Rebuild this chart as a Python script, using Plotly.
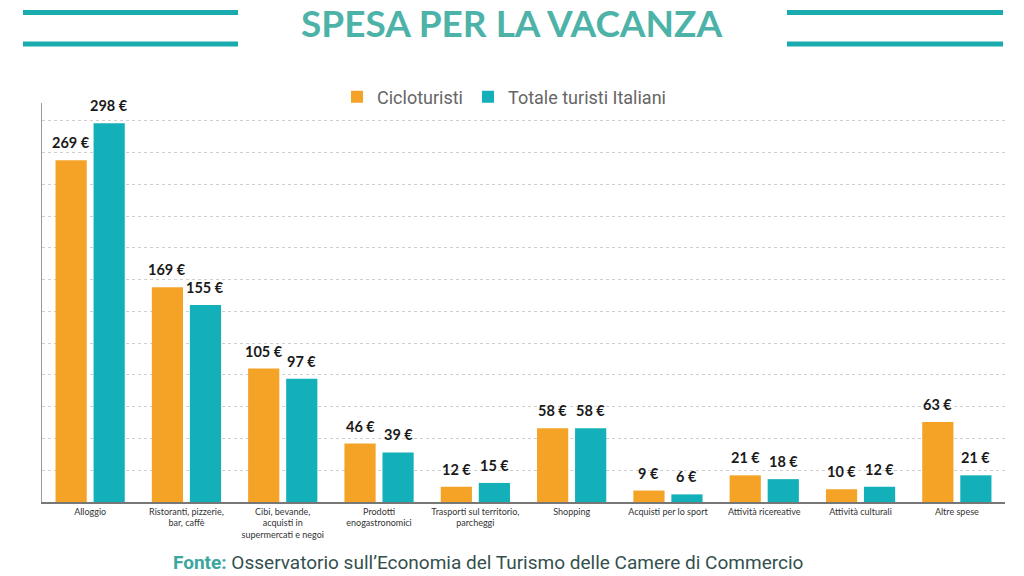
import plotly.graph_objects as go

categories = [
    "Alloggio",
    "Ristoranti, pizzerie,<br>bar, caffè",
    "Cibi, bevande,<br>acquisti in<br>supermercati e negoi",
    "Prodotti<br>enogastronomici",
    "Trasporti sul territorio,<br>parcheggi",
    "Shopping",
    "Acquisti per lo sport",
    "Attività ricereative",
    "Attività culturali",
    "Altre spese",
]
cicloturisti = [269, 169, 105, 46, 12, 58, 9, 21, 10, 63]
totale_italiani = [298, 155, 97, 39, 15, 58, 6, 18, 12, 21]
series_names = ["Cicloturisti", "Totale turisti Italiani"]

ORANGE = "#F4A326"
TEAL = "#14B0BA"
LINE_TEAL = "#1AABAF"
TITLE_TEAL = "#4DB3A8"

L, R, T, B = 42, 19, 103, 74
PW, PH = 1024 - L - R, 576 - T - B


def px_x(p):
    return (p - L) / PW


def px_y(p):
    return (576 - B - p) / PH


fig = go.Figure()
fig.add_trace(go.Bar(x=categories, y=cicloturisti, name=series_names[0],
                     marker_color=ORANGE, marker_line_width=0))
fig.add_trace(go.Bar(x=categories, y=totale_italiani, name=series_names[1],
                     marker_color=TEAL, marker_line_width=0))

annotations = []
for vals, shift in ((cicloturisti, -19), (totale_italiani, 19)):
    for c, v in zip(categories, vals):
        annotations.append(dict(
            x=c, y=v, xref="x", yref="y", text=f"{v} €", showarrow=False,
            xshift=shift, yshift=7, yanchor="bottom", xanchor="center",
            font=dict(family="Lato", size=14.5, color="#1a1a1a", weight="bold"),
        ))

annotations.append(dict(
    x=px_x(511), y=px_y(22), xref="paper", yref="paper", text="SPESA PER LA VACANZA",
    showarrow=False, xanchor="center", yanchor="middle",
    font=dict(family="Lato", size=37, color=TITLE_TEAL, weight="bold"),
))
annotations.append(dict(
    x=px_x(487.5), y=px_y(562), xref="paper", yref="paper",
    text="<b><span style='color:#3AA69E'>Fonte:</span></b> Osservatorio sull’Economia del Turismo delle Camere di Commercio",
    showarrow=False, xanchor="center", yanchor="middle",
    font=dict(family="Roboto", size=19, color="#34504E"),
))

fig.update_layout(
    width=1024, height=576,
    margin=dict(l=L, r=R, t=T, b=B),
    paper_bgcolor="white", plot_bgcolor="white",
    barmode="group", bargap=0.21, bargroupgap=0.18,
    showlegend=True,
    legend=dict(orientation="h", x=px_x(504), xanchor="center", y=px_y(97), yanchor="middle",
                font=dict(family="Roboto", size=18, color="#666666"),
                itemwidth=30),
    annotations=annotations,
    xaxis=dict(showline=True, linecolor="#777777", linewidth=1.5, ticks="",
               tickfont=dict(family="Lato", size=9, color="#333333"),
               showgrid=False),
    yaxis=dict(range=[0, 314], showline=True, linecolor="#9a9a9a", linewidth=1,
               showticklabels=False, ticks="", tick0=0, dtick=25,
               showgrid=True, gridcolor="#cfcfcf", griddash="dot", gridwidth=1,
               zeroline=False),
)

for (a, b) in ((23, 238), (787, 1003)):
    for yy in (12.5, 44):
        fig.add_shape(type="line", xref="paper", yref="paper",
                      x0=px_x(a), x1=px_x(b), y0=px_y(yy), y1=px_y(yy),
                      line=dict(color=LINE_TEAL, width=5))

fig.write_html("out.html", config={"displayModeBar": False},
               post_script="document.body.style.margin='0';document.body.style.overflow='hidden';")
